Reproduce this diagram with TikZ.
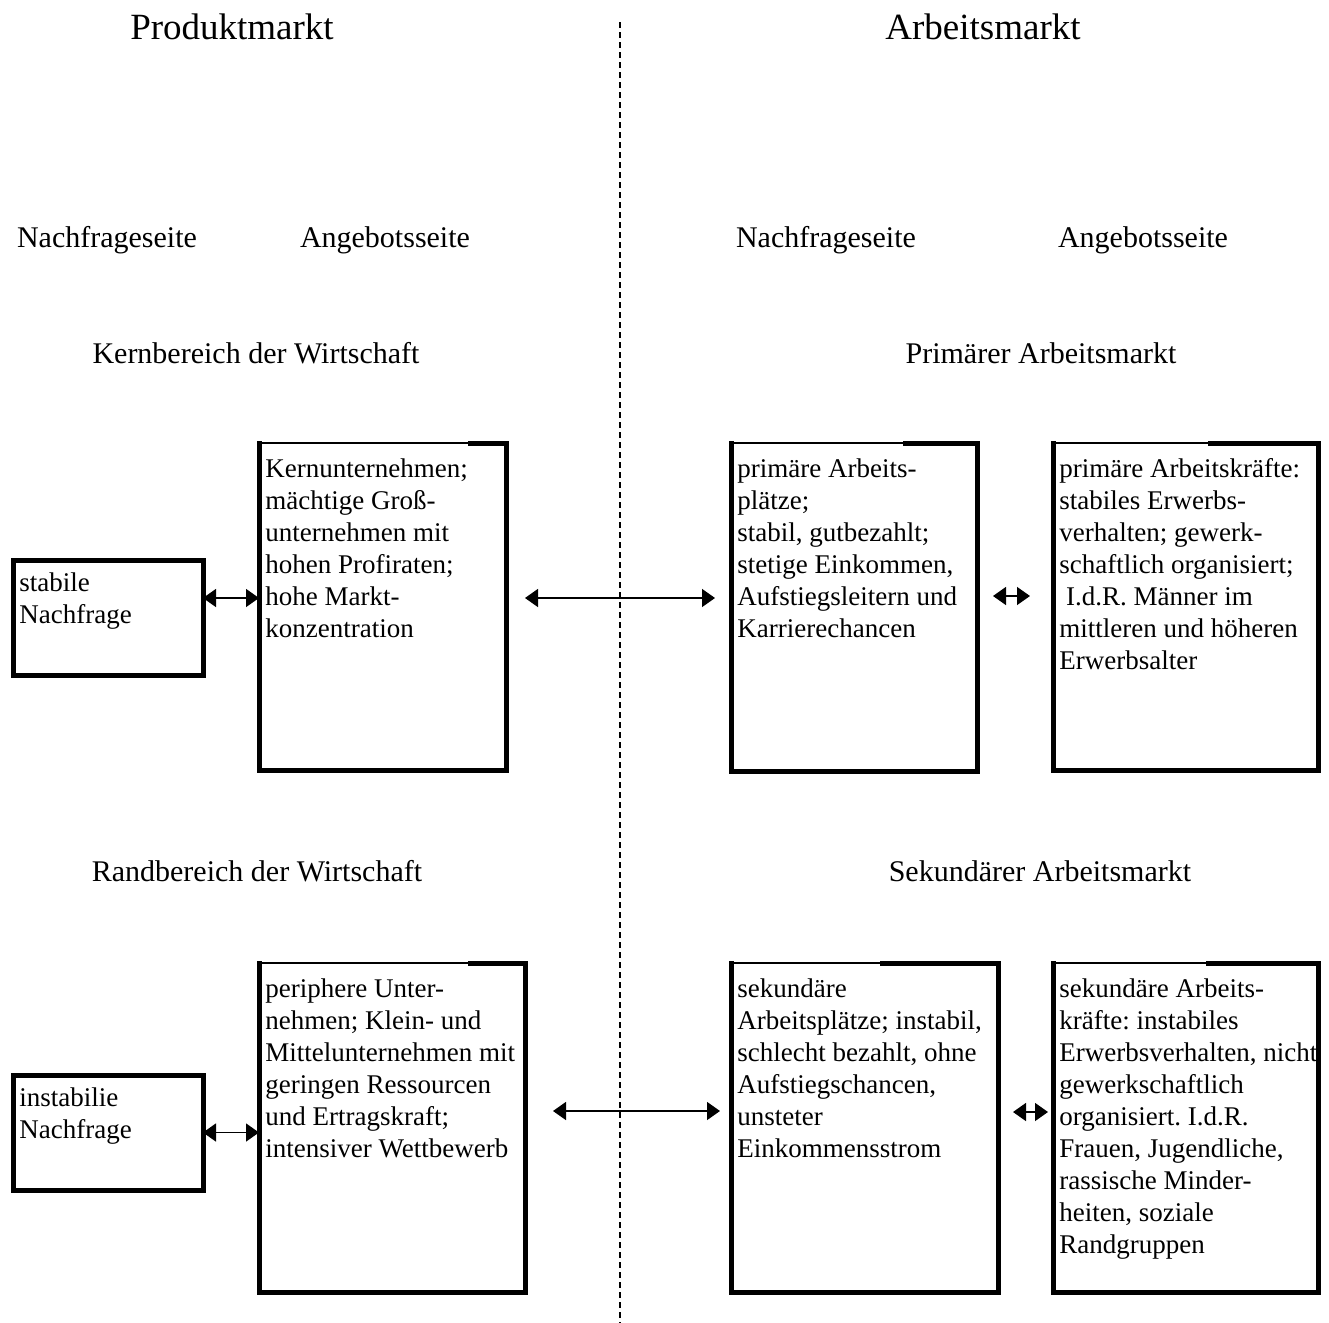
\documentclass[tikz,border=0pt]{standalone}
\usepackage{fontspec}
\setmainfont{Liberation Serif}
\usetikzlibrary{arrows.meta}
\frenchspacing

% Rahmen mit duennem Stueck oben links
\newcommand{\rahmen}[2]{%
  \draw[dick] (#1.north west) ++(#2,0) -- (#1.north east) -- (#1.south east)
    -- (#1.south west) -- (#1.north west);
  \draw[duenn] (#1.north west) -- ++(#2,0);}

\begin{document}
\begin{tikzpicture}
  [
    x=1pt, y=-1pt,
    kasten/.style =
      {rectangle, anchor=north west, inner sep=0pt, outer sep=0pt},
    inhalt/.style =
      {anchor=north west, align=left, inner sep=0pt,
       font=\fontsize{13.5pt}{16pt}\selectfont},
    titel/.style =
      {font=\fontsize{18.5pt}{22pt}\selectfont},
    kopf/.style =
      {font=\fontsize{15pt}{18pt}\selectfont},
    dick/.style = {line width=2.5pt, line cap=rect},
    duenn/.style = {line width=1pt},
    pfeil/.style =
      {{Triangle[length=6.5pt,width=9pt]}-{Triangle[length=6.5pt,width=9pt]}, line width=0.75pt}
  ]
  \useasboundingbox (0,0) rectangle (664.5,661.5);

  % Ueberschriften
  \node [titel] at (116,13.5)   (pm) {Produktmarkt};
  \node [titel] at (491.5,13.5) (am) {Arbeitsmarkt};
  \node [kopf] at (53.5,120)  (nl) {Nachfrageseite};
  \node [kopf] at (192.5,120) (al) {Angebotsseite};
  \node [kopf] at (413,120)   (nr) {Nachfrageseite};
  \node [kopf] at (571.5,120) (ar) {Angebotsseite};
  \node [kopf] at (128,176.5)   (kb) {Kernbereich der Wirtschaft};
  \node [kopf] at (520.5,176.5) (pa) {Primärer Arbeitsmarkt};
  \node [kopf] at (128.5,435.5) (rb) {Randbereich der Wirtschaft};
  \node [kopf] at (520,435.5)   (sa) {Sekundärer Arbeitsmarkt};

  \draw [densely dashed, line width=0.6pt] (310,11) -- (310,661.5);

  % Kaesten oben
  \node [kasten, minimum width=95pt,    minimum height=57.5pt] at (6.5,280)     (sn) {};
  \node [kasten, minimum width=123.5pt, minimum height=163.5pt] at (129.5,221.5) (ku) {};
  \node [kasten, minimum width=123pt,   minimum height=164pt]   at (365.5,221.5) (pp) {};
  \node [kasten, minimum width=132.5pt, minimum height=163.5pt] at (526.5,221.5) (pk) {};
  % Kaesten unten
  \node [kasten, minimum width=95pt,    minimum height=57.5pt]  at (6.5,537.5)   (in) {};
  \node [kasten, minimum width=133pt,   minimum height=164.5pt] at (129.5,481.5) (pu) {};
  \node [kasten, minimum width=133.5pt, minimum height=164.5pt] at (365.5,481.5) (sp) {};
  \node [kasten, minimum width=132.5pt, minimum height=164.5pt] at (526.5,481.5) (sk) {};

  \rahmen{sn}{0}
  \rahmen{ku}{105.5}
  \rahmen{pp}{87}
  \rahmen{pk}{78.5}
  \rahmen{in}{0}
  \rahmen{pu}{105.5}
  \rahmen{sp}{75.5}
  \rahmen{sk}{77.5}

  \node [inhalt] at ([xshift=3pt,yshift=-6pt]sn.north west) (snt)
    {stabile\\Nachfrage};
  \node [inhalt] at ([xshift=3pt,yshift=-7.5pt]ku.north west) (kut)
    {Kernunternehmen;\\mächtige Groß-\\unternehmen mit\\hohen Profiraten;\\hohe Markt-\\konzentration};
  \node [inhalt] at ([xshift=3pt,yshift=-7.5pt]pp.north west) (ppt)
    {primäre Arbeits-\\plätze;\\stabil, gutbezahlt;\\stetige Einkommen,\\Aufstiegsleitern und\\Karrierechancen};
  \node [inhalt] at ([xshift=3pt,yshift=-7.5pt]pk.north west) (pkt)
    {primäre Arbeitskräfte:\\stabiles Erwerbs-\\verhalten; gewerk-\\schaftlich organisiert;\\\ I.d.R. Männer im\\mittleren und höheren\\Erwerbsalter};
  \node [inhalt] at ([xshift=3pt,yshift=-6pt]in.north west) (int)
    {instabilie\\Nachfrage};
  \node [inhalt] at ([xshift=3pt,yshift=-7.5pt]pu.north west) (put)
    {periphere Unter-\\nehmen; Klein- und\\Mittelunternehmen mit\\geringen Ressourcen\\und Ertragskraft;\\intensiver Wettbewerb};
  \node [inhalt] at ([xshift=3pt,yshift=-7.5pt]sp.north west) (spt)
    {sekundäre\\Arbeitsplätze; instabil,\\schlecht bezahlt, ohne\\Aufstiegschancen,\\unsteter\\Einkommensstrom};
  \node [inhalt] at ([xshift=3pt,yshift=-7.5pt]sk.north west) (skt)
    {sekundäre Arbeits-\\kräfte: instabiles\\Erwerbsverhalten, nicht\\gewerkschaftlich\\organisiert. I.d.R.\\Frauen, Jugendliche,\\rassische Minder-\\heiten, soziale\\Randgruppen};

  % Pfeile
  \draw [pfeil] ([yshift=9.75pt]sn.east) -- ([yshift=9.75pt]sn.east -| ku.west);
  \draw [pfeil, shorten <=9.5pt, shorten >=8pt]
    ([yshift=4.25pt]ku.east) -- ([yshift=4.25pt]ku.east -| pp.west);
  \draw [pfeil, shorten <=8pt, shorten >=11.5pt]
    ([yshift=5.5pt]pp.east) -- ([yshift=5.5pt]pp.east -| pk.west);
  \draw [pfeil] (in.east) -- (in.east -| pu.west);
  \draw [pfeil, shorten <=14pt, shorten >=5.5pt]
    ([yshift=8.25pt]pu.east) -- ([yshift=8.25pt]pu.east -| sp.west);
  \draw [pfeil, shorten <=7.5pt, shorten >=2.5pt]
    ([yshift=7.75pt]sp.east) -- ([yshift=7.75pt]sp.east -| sk.west);
\end{tikzpicture}
\end{document}
